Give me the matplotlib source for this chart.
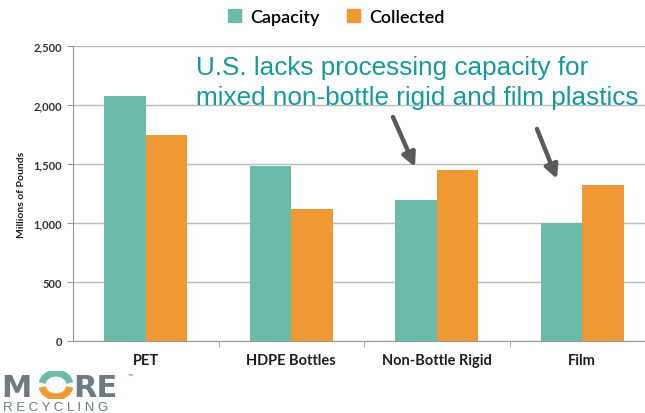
import matplotlib
matplotlib.use("Agg")
import matplotlib.pyplot as plt
from matplotlib.patches import Arc, Patch
import numpy as np

categories = ["PET", "HDPE Bottles", "Non-Bottle Rigid", "Film"]
capacity = [2075, 1485, 1195, 1000]
collected = [1748, 1118, 1450, 1320]
yticks = [0, 500, 1000, 1500, 2000, 2500]
ytick_labels = ["0", "500", "1,000", "1,500", "2,000", "2,500"]

TEAL = "#6BBBAA"
ORANGE = "#EE9933"
TXT = "#1F1F1F"
ANN = "#139A9A"

plt.rcParams['font.family'] = ['Lato', 'DejaVu Sans']

fig = plt.figure(figsize=(6.45, 4.14), dpi=100)
ax = fig.add_axes([73/645, 72/414, (655-73)/645, 295/414])

x = np.arange(len(categories))
w = 0.286
ax.bar(x - w/2, capacity, w, color=TEAL, zorder=3, label="Capacity")
ax.bar(x + w/2, collected, w, color=ORANGE, zorder=3, label="Collected")

ax.set_xlim(-0.5, 3.5)
ax.set_ylim(0, 2500)
ax.set_yticks(yticks)
ax.set_yticklabels(ytick_labels, fontsize=8, fontweight='bold', color="#333333")
ax.set_xticks(x)
ax.set_xticklabels(categories, fontsize=10.5, fontweight='bold', color=TXT)
ax.set_xticks([0.5, 1.5, 2.5], minor=True)
ax.tick_params(axis='x', which='major', length=0, pad=9)
ax.tick_params(axis='x', which='minor', length=4, color="#999999", direction='out')
ax.tick_params(axis='y', length=4, color="#999999", pad=4)
ax.yaxis.grid(True, color="#BBBBBB", lw=1, zorder=0)
ax.set_axisbelow(True)
for s in ['top', 'right']:
    ax.spines[s].set_visible(False)
for s in ['left', 'bottom']:
    ax.spines[s].set_color("#999999")
ax.set_ylabel("Millions of Pounds", fontsize=7.5, fontweight='bold', color=TXT, labelpad=5)

handles = [Patch(color=TEAL, label="Capacity"), Patch(color=ORANGE, label="Collected")]
fig.legend(handles=handles, loc='center', bbox_to_anchor=(336/645, 396/414), ncol=2,
           frameon=False, handlelength=0.75, handleheight=0.75,
           columnspacing=1.5, handletextpad=0.5,
           prop={'family': 'Lato', 'size': 13, 'weight': 'semibold'})

fig.text(196/645, (414-75)/414, "U.S. lacks processing capacity for", fontsize=18.8,
         color=ANN, family='Liberation Sans', va='baseline', ha='left')
fig.text(196/645, (414-105)/414, "mixed non-bottle rigid and film plastics", fontsize=18.8,
         color=ANN, family='Liberation Sans', va='baseline', ha='left')

arrowprops = dict(arrowstyle='-|>', color='#5A5A5A', lw=3.2, mutation_scale=20, shrinkA=0, shrinkB=0)
ax.annotate("", xy=(415, 246), xycoords='figure pixels', xytext=(393, 296),
            textcoords='figure pixels', arrowprops=arrowprops)
ax.annotate("", xy=(557, 234), xycoords='figure pixels', xytext=(537, 284),
            textcoords='figure pixels', arrowprops=arrowprops)

# Logo
GRAY = "#6E7B82"
fig.text(1/645, (414-397)/414, "M", fontsize=22, fontweight='bold', color=GRAY,
         family='DejaVu Sans', va='baseline')
lax = fig.add_axes([39/645, (414-400)/414, 34/645, 28/414])
lax.set_xlim(0, 1); lax.set_ylim(0, 1); lax.axis('off')
lax.add_patch(Arc((0.5, 0.5), 0.82, 0.85, theta1=10, theta2=170, color=TEAL, lw=5))
lax.add_patch(Arc((0.5, 0.5), 0.82, 0.85, theta1=190, theta2=350, color=ORANGE, lw=5))
fig.text(73/645, (414-397)/414, "RE", fontsize=22, fontweight='bold', color=GRAY,
         family='DejaVu Sans', va='baseline')
fig.text(128/645, (414-379)/414, "™", fontsize=5, color=GRAY, va='baseline')
fig.text(3/645, (414-411)/414, "R E C Y C L I N G", fontsize=9.5, color=GRAY,
         family='Liberation Sans', va='baseline')

fig.savefig("out.png", dpi=100)
